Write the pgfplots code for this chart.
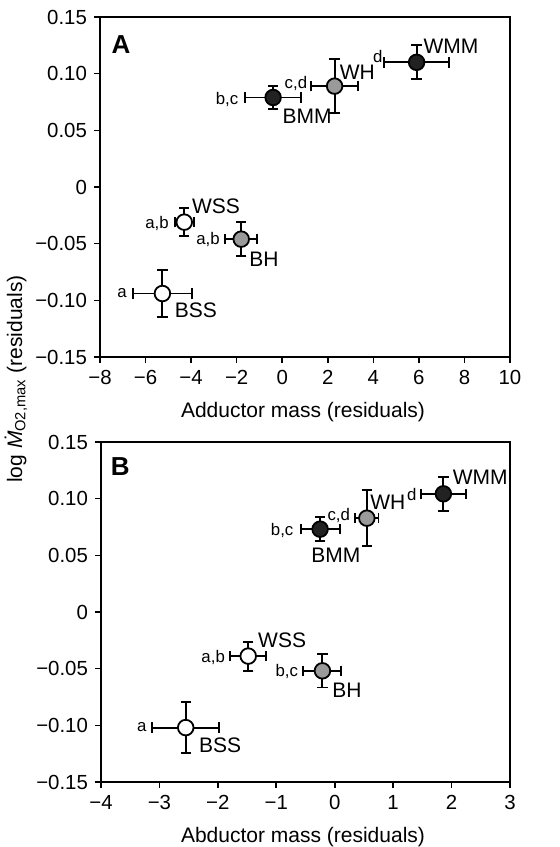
\documentclass[border=0pt]{standalone}
\usepackage{fontspec}
\setmainfont{Liberation Sans}
\usepackage{pgfplots}
\pgfplotsset{compat=1.18}

\definecolor{darkfill}{HTML}{222222}
\definecolor{grayfill}{HTML}{9A9A9A}

\pgfplotsset{
  panel/.style={
    scale only axis,
    anchor=south west,
    width=205pt, height=170pt,
    ymin=-0.15, ymax=0.15,
    ytick={-0.15,-0.10,-0.05,0,0.05,0.10,0.15},
    yticklabels={−0.15,−0.10,−0.05,0,0.05,0.10,0.15},
    xtick pos=bottom, ytick pos=left,
    tick align=outside,
    major tick length=3pt,
    axis line style={line width=0.9pt},
    every tick/.style={black, line width=0.8pt},
    tick label style={font=\fontsize{10.2}{12}\selectfont},
    clip=false,
  },
  grp/.style={
    only marks, mark=*, mark size=3.9pt,
    mark options={draw=black, line width=0.9pt, fill=#1},
    error bars/.cd,
      x dir=both, x explicit, y dir=both, y explicit,
      error bar style={line width=0.95pt, black},
      error mark options={rotate=90, mark size=2.6pt, line width=0.95pt, black},
  },
}
\tikzset{
  nm/.style={font=\fontsize{10.5}{12}\selectfont, inner sep=0pt},
  lt/.style={font=\fontsize{8.4}{10}\selectfont, inner sep=0pt},
}

\begin{document}
\begin{tikzpicture}
\path[use as bounding box] (0,0) rectangle (279.5pt,-423.5pt);

% panel A
\begin{axis}[panel, at={(50pt,-178.5pt)},
  xmin=-8, xmax=10,
  xtick={-8,-6,...,10},
  xticklabels={−8,−6,−4,−2,0,2,4,6,8,10},
]
\addplot[grp=darkfill] coordinates {
  (5.9,0.110) +- (1.43,0.015)
  (-0.4,0.079) +- (1.24,0.0105)
};
\addplot[grp=grayfill] coordinates {
  (2.3,0.089) +- (1.04,0.024)
  (-1.8,-0.046) +- (0.71,0.015)
};
\addplot[grp=white] coordinates {
  (-4.3,-0.031) +- (0.42,0.0126)
  (-5.26,-0.094) +- (1.31,0.021)
};
\node[font=\bfseries\fontsize{13}{14}\selectfont] at (axis cs:-7.08,0.126) {A};
\node[nm] at (axis cs:7.41,0.1244) {WMM};
\node[lt] at (axis cs:4.2,0.1155) {d};
\node[nm] at (axis cs:3.3,0.1015) {WH};
\node[lt] at (axis cs:0.60,0.0909) {c,d};
\node[lt] at (axis cs:-2.42,0.0776) {b,c};
\node[nm] at (axis cs:1.09,0.0626) {BMM};
\node[nm] at (axis cs:-2.91,-0.0168) {WSS};
\node[lt] at (axis cs:-5.50,-0.0318) {a,b};
\node[lt] at (axis cs:-3.26,-0.0459) {a,b};
\node[nm] at (axis cs:-0.80,-0.0636) {BH};
\node[lt] at (axis cs:-7.03,-0.0936) {a};
\node[nm] at (axis cs:-3.79,-0.1086) {BSS};
\end{axis}

% panel B
\begin{axis}[panel, at={(50.5pt,-391pt)}, width=204.5pt,
  xmin=-4, xmax=3,
  xtick={-4,...,3},
  xticklabels={−4,−3,−2,−1,0,1,2,3},
]
\addplot[grp=darkfill] coordinates {
  (1.86,0.1043) +- (0.39,0.0148)
  (-0.25,0.0731) +- (0.334,0.0108)
};
\addplot[grp=grayfill] coordinates {
  (0.55,0.0828) +- (0.2,0.0245)
  (-0.21,-0.0519) +- (0.325,0.0147)
};
\addplot[grp=white] coordinates {
  (-1.48,-0.0389) +- (0.31,0.0128)
  (-2.55,-0.102) +- (0.576,0.0224)
};
\node[font=\bfseries\fontsize{13}{14}\selectfont] at (axis cs:-3.67,0.128) {B};
\node[nm] at (axis cs:2.49,0.1191) {WMM};
\node[lt] at (axis cs:1.32,0.1041) {d};
\node[nm] at (axis cs:0.91,0.0971) {WH};
\node[lt] at (axis cs:0.07,0.0856) {c,d};
\node[lt] at (axis cs:-0.90,0.0723) {b,c};
\node[nm] at (axis cs:0.02,0.0503) {BMM};
\node[nm] at (axis cs:-0.90,-0.0248) {WSS};
\node[lt] at (axis cs:-2.08,-0.0398) {a,b};
\node[lt] at (axis cs:-0.82,-0.0521) {b,c};
\node[nm] at (axis cs:0.21,-0.0689) {BH};
\node[lt] at (axis cs:-3.30,-0.1015) {a};
\node[nm] at (axis cs:-1.96,-0.1174) {BSS};
\end{axis}

% axis titles
\node[font=\fontsize{10.5}{12}\selectfont] at (151.5pt,-206pt) {Adductor mass (residuals)};
\node[font=\fontsize{10.5}{12}\selectfont] at (151.5pt,-418.5pt) {Abductor mass (residuals)};
\node[rotate=90, font=\fontsize{10.5}{12}\selectfont] at (8pt,-189.5pt)
  {log \textit{\.{M}}\textsubscript{O2,max} (residuals)};
\end{tikzpicture}
\end{document}
